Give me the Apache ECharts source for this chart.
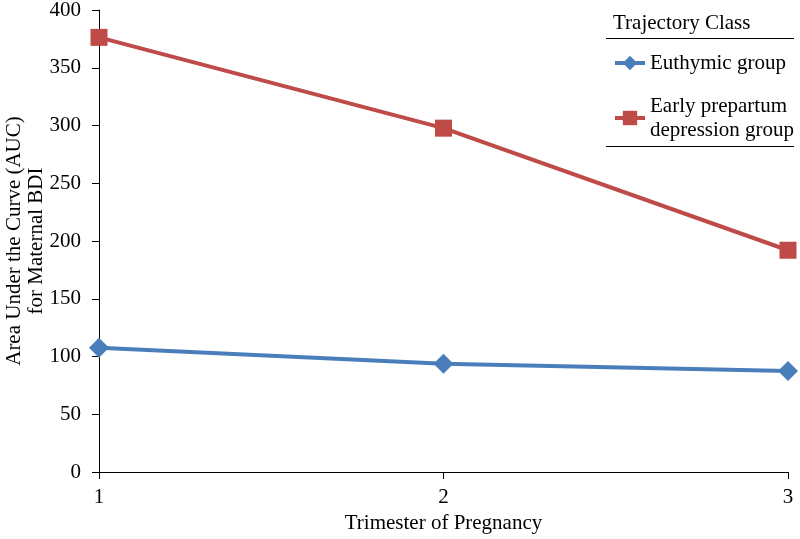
<!DOCTYPE html>
<html><head><meta charset="utf-8">
<script src="https://cdn.jsdelivr.net/npm/echarts@6/dist/echarts.min.js"></script>
<style>html,body{margin:0;padding:0;background:#fff}#c{width:800px;height:539px}</style>
</head><body><div id="c"></div>
<script>
const trimesters = [1, 2, 3];
const euthymic = [107.6, 93.8, 87.4];
const earlyPrepartum = [376.3, 297.7, 192];
const seriesNames = ['Euthymic group', 'Early prepartum depression group'];
const yTicks = [0, 50, 100, 150, 200, 250, 300, 350, 400];

const font = 'Liberation Serif';
const fs = 21;
const chart = echarts.init(document.getElementById('c'));
chart.setOption({
  backgroundColor: '#fff',
  animation: false,
  textStyle: { fontFamily: font },
  grid: { left: 99, right: 12, top: 10, bottom: 67, containLabel: false, outerBoundsMode: 'none' },
  xAxis: {
    type: 'value', min: 1, max: 3, interval: 1,
    name: 'Trimester of Pregnancy', nameLocation: 'middle', nameGap: 41, nameMoveOverlap: false,
    nameTextStyle: { fontFamily: font, fontSize: fs, color: '#000' },
    axisLine: { lineStyle: { color: '#000', width: 1 } },
    axisTick: { show: true, length: 7, lineStyle: { color: '#000' } },
    axisLabel: { fontFamily: font, fontSize: fs, color: '#000', margin: 15 },
    splitLine: { show: false }
  },
  yAxis: {
    type: 'value', min: yTicks[0], max: yTicks[yTicks.length - 1], interval: 50,
    name: 'Area Under the Curve (AUC)\nfor Maternal BDI', nameLocation: 'middle', nameGap: 52, nameMoveOverlap: false,
    nameTextStyle: { fontFamily: font, fontSize: fs, color: '#000', lineHeight: 22 },
    axisLine: { show: true, lineStyle: { color: '#000', width: 1 } },
    axisTick: { show: true, length: 7, lineStyle: { color: '#000' } },
    axisLabel: { fontFamily: font, fontSize: fs, color: '#000', margin: 18 },
    splitLine: { show: false }
  },
  legend: {
    orient: 'vertical', left: 608, top: 46,
    itemWidth: 30, itemHeight: 18, itemGap: 19,
    lineStyle: { width: 4 },
    textStyle: { fontFamily: font, fontSize: fs, color: '#000', lineHeight: 24 },
    formatter: function (n) { return n === seriesNames[1] ? 'Early prepartum\ndepression group' : n; },
    data: seriesNames
  },
  graphic: [
    { type: 'text', x: 613, y: 23, style: { text: 'Trajectory Class', font: fs + 'px "Liberation Serif"', fill: '#000', verticalAlign: 'middle' } },
    { type: 'line', shape: { x1: 606, y1: 38.5, x2: 794, y2: 38.5 }, style: { stroke: '#000', lineWidth: 1 } },
    { type: 'line', shape: { x1: 606, y1: 146.5, x2: 794, y2: 146.5 }, style: { stroke: '#000', lineWidth: 1 } }
  ],
  series: [
    {
      name: seriesNames[0], type: 'line',
      data: trimesters.map((t, i) => [t, euthymic[i]]),
      symbol: 'diamond', symbolSize: 20,
      lineStyle: { color: '#4A7EBB', width: 4 },
      itemStyle: { color: '#4A7EBB' }
    },
    {
      name: seriesNames[1], type: 'line',
      data: trimesters.map((t, i) => [t, earlyPrepartum[i]]),
      symbol: 'rect', symbolSize: 17,
      lineStyle: { color: '#BE4B48', width: 4 },
      itemStyle: { color: '#BE4B48' }
    }
  ]
});
</script></body></html>
